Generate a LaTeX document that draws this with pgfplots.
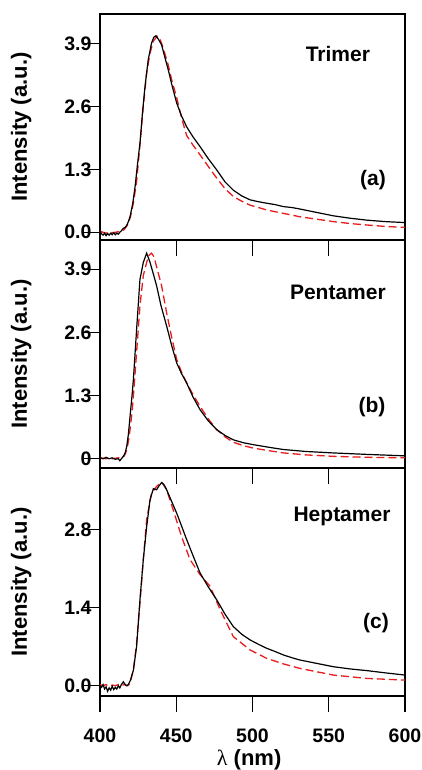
\documentclass[border=0pt]{standalone}
\usepackage{fontspec}
\setmainfont{Liberation Sans}
\newfontfamily\serifgreek{Liberation Serif}
\usepackage{pgfplots}
\pgfplotsset{compat=1.18}
\definecolor{fitred}{RGB}{232,28,28}
\pgfplotsset{
  panel/.style={
    scale only axis, width=305pt,
    xmin=400, xmax=600, xtick={400,450,500,550,600},
    tick align=outside, xtick pos=left, ytick pos=left,
    major tick length=16pt,
    axis line style={line width=1.2pt},
    tick style={black, line width=1.2pt},
    /pgf/number format/assume math mode=true,
    tick label style={font=\fontsize{19.5}{19.5}\selectfont\bfseries},
    yticklabel shift=-11pt, xticklabel shift=13pt,
    ylabel={Intensity (a.u.)},
    ylabel style={at={(axis description cs:-0.258,0.5)}, anchor=center, font=\fontsize{22}{22}\selectfont\bfseries},
  },
  exp/.style={black, line width=1.2pt, no marks},
  fit/.style={fitred, line width=1.3pt, no marks, dash pattern=on 8pt off 4pt},
}
\tikzset{lab/.style={font=\fontsize{21}{21}\selectfont\bfseries, anchor=center},
  tk/.style={black, line width=1.2pt}}
\begin{document}
\begin{tikzpicture}
\path[use as bounding box] (0,0) rectangle (422pt,-770pt);
% (a)
\begin{axis}[panel, at={(100pt,-14pt)}, anchor=north west, height=226pt,
  ymin=-0.16, ymax=4.51, ytick={0,1.3,2.6,3.9},
  yticklabel style={/pgf/number format/fixed, /pgf/number format/fixed zerofill, /pgf/number format/precision=1},
  xticklabels={}]
\addplot[fit] coordinates {(400,0.02)(402,0.0)(404,-0.02)(406,0.01)(408,-0.01)(410,0.0)(412,0.01)(414,0.02)(416,0.06)(418,0.15)(420,0.32)(422,0.62)(424,1.05)(426.2,1.8)(428.4,2.6)(430.6,3.3)(432.8,3.7)(435,3.95)(437.5,4.05)(439.5,3.98)(441.5,3.8)(444.8,3.45)(447,3.15)(450.3,2.78)(453.5,2.36)(456.8,2.0)(461,1.80)(465.6,1.60)(471,1.36)(476.5,1.12)(482,0.90)(487.4,0.74)(493,0.64)(498.4,0.56)(504,0.51)(509.3,0.46)(520.3,0.39)(531.1,0.32)(542,0.27)(553,0.22)(564,0.18)(575,0.15)(587,0.12)(600,0.10)};
\addplot[exp] coordinates {(400,0.02)(401,-0.03)(402,-0.06)(403,-0.02)(404,-0.07)(405,-0.03)(406,-0.06)(407,-0.02)(408,-0.05)(409,-0.01)(410,-0.05)(411,-0.02)(412,-0.04)(413,0.0)(414,0.03)(415.3,0.08)(416.5,0.1)(417.5,0.14)(418.6,0.22)(419.7,0.32)(421.5,0.6)(423,0.94)(424.5,1.38)(426.2,1.84)(427.8,2.45)(429.5,3.01)(431.6,3.56)(433.8,3.91)(435.3,4.03)(436.7,4.06)(438.5,3.98)(440.4,3.87)(442.5,3.62)(444.8,3.35)(447.5,3.0)(450.3,2.67)(453.5,2.40)(456.8,2.18)(461,1.97)(465.6,1.77)(471,1.52)(476.5,1.29)(482,1.04)(487.4,0.87)(493,0.75)(498.4,0.67)(504,0.63)(509.3,0.60)(515,0.57)(520.3,0.53)(526,0.51)(531.1,0.48)(542,0.41)(553,0.34)(564,0.29)(575,0.25)(587,0.22)(600,0.20)};
\node[lab] at (axis cs:556,3.69) {Trimer};
\node[lab] at (axis cs:579,1.08) {(a)};
\end{axis}
% (b)
\begin{axis}[panel, at={(100pt,-240pt)}, anchor=north west, height=228pt,
  ymin=-0.19, ymax=4.50, ytick={0,1.3,2.6,3.9}, yticklabels={0,1.3,2.6,3.9},
  xticklabels={}]
\addplot[fit] coordinates {(400,0.02)(402,0.01)(404,0.0)(406,0.02)(408,0.0)(410,0.01)(412,0.02)(414,0.01)(416,0.06)(417.5,0.18)(418.6,0.35)(419.7,0.6)(421,0.95)(421.9,1.29)(424,2.19)(426.2,3.15)(428.4,3.77)(430.6,4.04)(432,4.18)(433.8,4.23)(435.5,4.15)(437.1,3.95)(440.4,3.56)(443.7,3.0)(447,2.5)(450.3,2.04)(453.5,1.78)(456.8,1.56)(461,1.32)(465.6,1.08)(471,0.82)(476.5,0.60)(482,0.45)(487.4,0.34)(494,0.27)(500.5,0.22)(510,0.17)(520.3,0.12)(535,0.08)(553,0.05)(575,0.03)(600,0.02)};
\addplot[exp] coordinates {(400,0.02)(402,0.0)(404,0.03)(406,0.0)(408,0.02)(410,-0.01)(412,0.0)(413,-0.04)(414,0.0)(415.3,0.05)(416.5,0.12)(417.5,0.25)(418.6,0.5)(419.7,0.87)(421,1.3)(421.9,1.63)(424,2.66)(426.2,3.69)(428.4,4.04)(430.6,4.23)(432.8,4.04)(435,3.8)(437.1,3.56)(440,3.15)(443.7,2.73)(447,2.33)(450.3,1.97)(453.5,1.75)(456.8,1.56)(461,1.27)(465.6,1.01)(471,0.78)(476.5,0.60)(482,0.48)(487.4,0.39)(494,0.33)(500.5,0.29)(510,0.24)(520.3,0.19)(535,0.15)(553,0.12)(575,0.09)(600,0.06)};
\node[lab] at (axis cs:556,3.43) {Pentamer};
\node[lab] at (axis cs:578.4,1.07) {(b)};
\end{axis}
% (c)
\begin{axis}[panel, at={(100pt,-468pt)}, anchor=north west, height=228pt,
  ymin=-0.185, ymax=3.90, ytick={0,1.4,2.8},
  yticklabel style={/pgf/number format/fixed, /pgf/number format/fixed zerofill, /pgf/number format/precision=1},
  xlabel={{\serifgreek\mdseries λ} (nm)},
  xlabel style={at={(axis description cs:0.489,-0.28)}, anchor=center, font=\fontsize{22}{22}\selectfont\bfseries}]
\addplot[fit] coordinates {(400,0.02)(402,0.0)(404,0.02)(406,-0.01)(408,0.01)(410,0.0)(412,0.02)(414,0.0)(416,0.02)(418,0.0)(419.5,0.03)(421.9,0.28)(424,0.76)(426.2,1.48)(428.4,2.26)(430.6,2.98)(433.8,3.45)(437.1,3.57)(440.4,3.65)(443.7,3.51)(448,3.15)(453.5,2.67)(459,2.26)(465.6,1.99)(472.2,1.78)(478.8,1.36)(487.4,0.88)(498.4,0.64)(509.3,0.49)(520.3,0.39)(531.1,0.31)(553,0.19)(575,0.13)(600,0.10)};
\addplot[exp] coordinates {(400,0.0)(401,-0.03)(402,0.02)(403,-0.06)(404,-0.02)(405,-0.1)(406,-0.04)(407,-0.08)(408,-0.01)(409,-0.07)(410,-0.03)(411,-0.06)(412,0.0)(413,-0.04)(414,0.02)(415.3,0.07)(416.5,0.02)(417.5,0.0)(418.6,0.02)(420,0.1)(421.9,0.28)(424,0.70)(426.2,1.54)(428.4,2.26)(430.6,2.85)(432.8,3.33)(435,3.53)(437.1,3.51)(438.7,3.58)(440.4,3.64)(442,3.6)(443.7,3.51)(447,3.3)(450.3,3.09)(453.5,2.86)(456.8,2.62)(461,2.33)(465.6,2.02)(471,1.77)(476.5,1.54)(482,1.28)(487.4,1.06)(493,0.92)(498.4,0.82)(504,0.74)(509.3,0.67)(515,0.61)(520.3,0.55)(526,0.50)(531.1,0.46)(542,0.40)(553,0.34)(564,0.30)(575,0.27)(587,0.23)(600,0.19)};
\node[lab] at (axis cs:558.7,3.03) {Heptamer};
\node[lab] at (axis cs:581,1.13) {(c)};
\end{axis}
% tick marks (outside, drawn on the canvas at the axes' tick positions)
\foreach \yb in {240,468} {
  \foreach \xx in {176.25,252.5,328.75} {\draw[tk] (\xx pt,-\yb pt) -- (\xx pt,-\yb pt-16pt);}
}
\foreach \xx in {100,176.25,252.5,328.75,405} {\draw[tk] (\xx pt,-696pt) -- (\xx pt,-712pt);}
\foreach \yy in {232.26,169.34,106.43,43.52,458.76,395.57,332.37,269.17,685.67,607.54,529.4} {\draw[tk] (100pt,-\yy pt) -- (84pt,-\yy pt);}
\end{tikzpicture}
\end{document}
